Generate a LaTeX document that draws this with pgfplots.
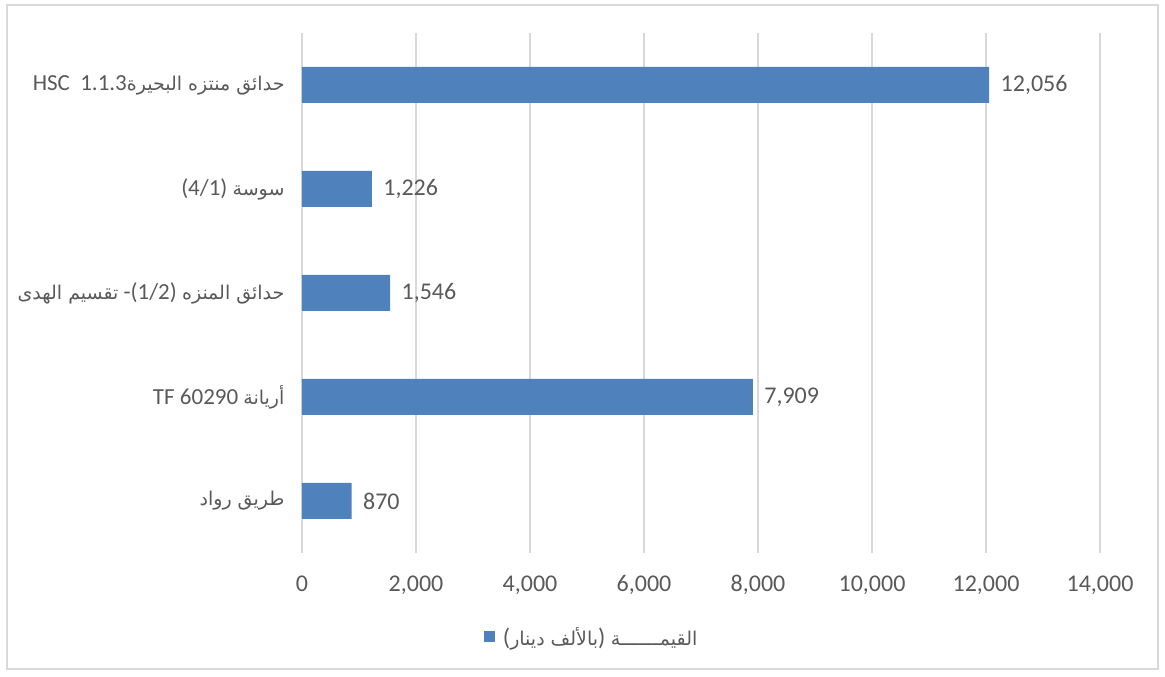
\documentclass[border=0pt]{standalone}
\usepackage{fontspec}
\setmainfont{Carlito}
\newfontfamily\arabicfont[Script=Arabic]{DejaVu Sans}
\TeXXeTstate=1
\usepackage{pgfplots}
\pgfplotsset{compat=1.18}
\definecolor{barblue}{HTML}{4F81BD}
\definecolor{txt}{HTML}{595959}
\definecolor{grd}{HTML}{D9D9D9}
% arabic font at label size
\newcommand{\arf}{\arabicfont\fontsize{19}{23}\selectfont}

\begin{document}
\begin{tikzpicture}
\begin{axis}[
  at={(0,0)}, anchor=south west,
  scale only axis, width=798pt, height=520pt,
  xbar, bar width=36pt,
  xmin=0, xmax=14000, ymin=-0.5, ymax=4.5,
  xtick={0,2000,...,14000}, ytick={0,1,2,3,4},
  yticklabels={
    {{\arf\beginR طريق رواد\endR}},
    {TF 60290 {\arf\beginR أريانة\endR}},
    {{\arf\beginR تقسيم الهدى\endR}\ -(1/2)\ {\arf\beginR حدائق المنزه\endR}},
    {(4/1) {\arf\beginR سوسة\endR}},
    {HSC\ \ 1.1.3{\arf\beginR حدائق منتزه البحيرة\endR}}},
  scaled x ticks=false,
  xmajorgrids, grid style={grd, line width=1.3pt},
  axis line style={draw=none},
  major tick length=0pt,
  tick label style={text=txt, font=\fontsize{24}{28}\selectfont},
  yticklabel style={font=\fontsize{23}{27}\selectfont, xshift=-14pt},
  /pgf/number format/1000 sep={,},
  /pgf/number format/assume math mode=true,
  xticklabel style={yshift=-19pt},
  nodes near coords,
  every node near coord/.append style={text=txt, font=\fontsize{24}{28}\selectfont, xshift=8pt},
  legend style={at={(0.363,-0.1615)}, anchor=center, draw=none, fill=none,
    text=txt, font=\fontsize{24}{28}\selectfont},
  legend image code/.code={\fill[barblue] (0pt,-5.5pt) rectangle (11pt,5.5pt);},
]
\addplot[fill=barblue, draw=none, bar shift=0pt] coordinates {
  (870,0) (7909,1) (1546,2) (1226,3) (12056,4)
};
\addlegendentry{\hspace{6pt}({\arf\beginR بالألف دينار\endR}) {\arf\beginR القيمـــــــة\endR}}
\end{axis}
\pgfresetboundingbox
\useasboundingbox (-302pt,-124pt) rectangle (863pt,553pt);
\draw[grd, line width=1.3pt] (-295pt,548pt) rectangle (856pt,-116pt);
\end{tikzpicture}
\end{document}
